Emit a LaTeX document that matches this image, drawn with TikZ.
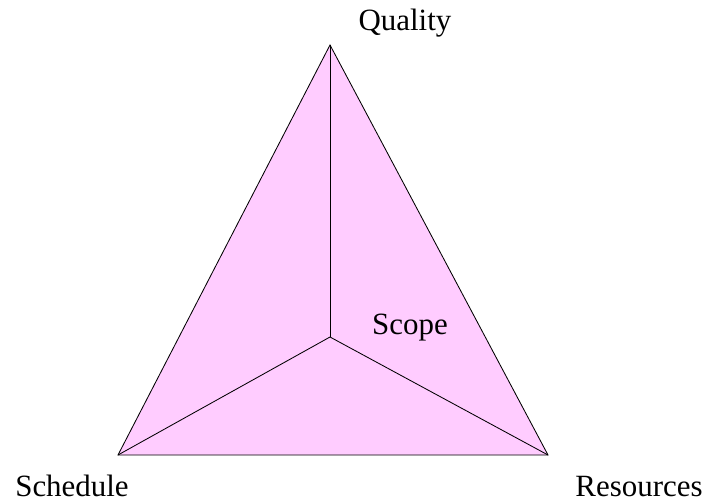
\documentclass[tikz,border=0pt]{standalone}
\usepackage{fontspec}
\setmainfont{Liberation Serif}
\usetikzlibrary{positioning}
\definecolor{facepink}{RGB}{255,204,255}

\begin{document}
\begin{tikzpicture}[x=0.025cm,y=-0.025cm]
\tikzset{
  facelabel/.style={anchor=base,inner sep=0pt,font=\fontsize{22}{26}\selectfont},
  pyramidface/.style={fill=facepink,draw=none},
  pyramidedge/.style={draw=black,line width=0.6pt}
}
\useasboundingbox (0,0) rectangle (709,504);
\coordinate (v_Q) at (330,45);
\coordinate (v_S) at (118,455);
\coordinate (v_R) at (548,455);
\coordinate (v_C) at (330,337);
\fill[pyramidface] (v_Q) -- (v_S) -- (v_R) -- cycle;
\draw[pyramidedge] (v_Q) -- (v_S) -- (v_R) -- cycle;
\draw[pyramidedge] (v_Q) -- (v_C);
\draw[pyramidedge] (v_S) -- (v_C);
\draw[pyramidedge] (v_R) -- (v_C);
\node[facelabel] (n_quality) at (405,31) {Quality};
\node[facelabel] (n_schedule) at (72,496) {Schedule};
\node[facelabel] (n_resources) at (639,496) {Resources};
\node[facelabel] (n_scope) at (410,334) {Scope};
\end{tikzpicture}
\end{document}
